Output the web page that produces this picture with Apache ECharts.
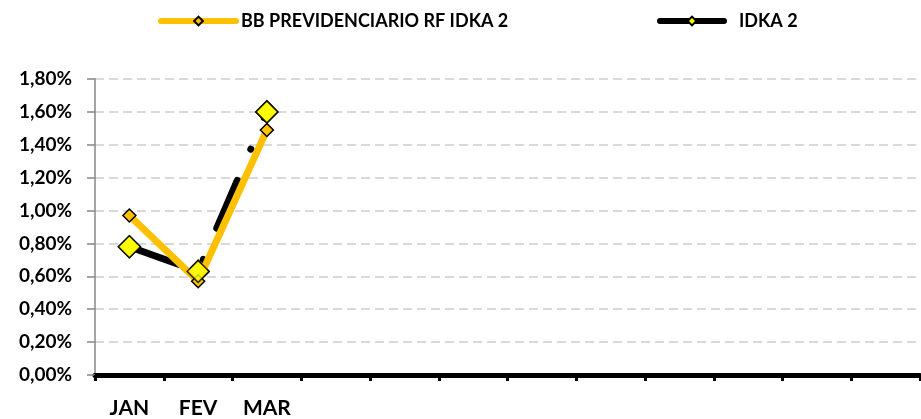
<!DOCTYPE html>
<html>
<head>
<meta charset="utf-8">
<script src="https://cdn.jsdelivr.net/npm/echarts@6/dist/echarts.min.js"></script>
<style>
html,body{margin:0;padding:0;background:#fff;}
#c{width:921px;height:419px;}
</style>
</head>
<body>
<div id="c"></div>
<script>
var categories = ['JAN','FEV','MAR','','','','','','','','',''];
var seriesNames = ['BB PREVIDENCIARIO RF IDKA 2', 'IDKA 2'];
var bbValues = [0.97, 0.57, 1.49];
var idkaValues = [0.78, 0.63, 1.60];
var yTicks = {min: 0, max: 1.8, interval: 0.2};

var FONT = 'Lato';
var chart = echarts.init(document.getElementById('c'), null, {renderer: 'canvas'});
chart.setOption({
  animation: false,
  backgroundColor: '#fff',
  grid: {left: 95, right: 1, top: 79, bottom: 44, containLabel: false},
  legend: [{
    left: 158, top: 12, padding: 0, itemWidth: 75, itemHeight: 11,
    data: [{name: seriesNames[0], lineStyle: {width: 6, cap: 'round', type: 'solid'}}],
    textStyle: {fontFamily: FONT, fontWeight: 'bold', fontSize: 18, color: '#000'}
  }, {
    left: 657, top: 12, padding: 0, itemWidth: 64, itemHeight: 11,
    data: [{name: seriesNames[1], lineStyle: {width: 6, cap: 'round', type: 'solid'}}],
    textStyle: {fontFamily: FONT, fontWeight: 'bold', fontSize: 18, color: '#000', padding: [0,0,0,10]}
  }],
  xAxis: {
    type: 'category', data: categories, boundaryGap: true,
    axisLine: {lineStyle: {color: '#000', width: 5}},
    axisTick: {show: true, length: 6, lineStyle: {color: '#000', width: 3}},
    axisLabel: {fontFamily: FONT, fontWeight: 'bold', fontSize: 21, color: '#000', margin: 23, interval: 0},
    splitLine: {show: false}
  },
  yAxis: {
    type: 'value', min: yTicks.min, max: yTicks.max, interval: yTicks.interval,
    axisLine: {show: true, lineStyle: {color: '#868686', width: 1.5}},
    axisTick: {show: true, length: 8, lineStyle: {color: '#868686', width: 1.5}},
    axisLabel: {fontFamily: FONT, fontWeight: 'bold', fontSize: 19, color: '#000', margin: 23,
      formatter: function(v){ return v.toFixed(2).replace('.', ',') + '%'; }},
    splitLine: {show: true, lineStyle: {color: '#d9d9d9', width: 2, type: [9, 5]}}
  },
  series: [{
    name: seriesNames[1], type: 'line', data: idkaValues, z: 2,
    symbol: 'diamond', symbolSize: 22,
    lineStyle: {color: '#000', width: 7, type: [52, 34, 0.1, 34], cap: 'round'},
    itemStyle: {color: '#FFFF00', borderColor: '#000', borderWidth: 1.5}
  }, {
    name: seriesNames[0], type: 'line', data: bbValues, z: 3,
    symbol: 'diamond', symbolSize: 13,
    lineStyle: {color: '#FFC000', width: 7, cap: 'round'},
    itemStyle: {color: '#FFC000', borderColor: '#000', borderWidth: 1.5}
  }, {
    name: 'overlay', type: 'scatter', data: idkaValues, z: 4,
    symbol: 'diamond', symbolSize: 22,
    itemStyle: {color: '#FFFF00', borderColor: '#000', borderWidth: 1.5}
  }]
});
</script>
</body>
</html>
